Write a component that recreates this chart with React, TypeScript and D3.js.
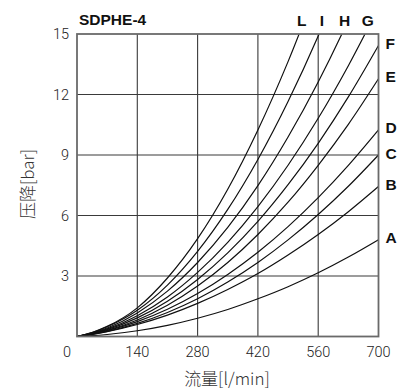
import React from "react";
import * as d3 from "d3";

const flows = [0, 35, 70, 140, 210, 280, 350, 420, 490, 560, 630, 700];
const seriesNames = ["A", "B", "C", "D", "E", "F", "G", "H", "I", "L"];
const valA = [0, 0.039, 0.1, 0.284, 0.553, 0.906, 1.34, 1.87, 2.47, 3.16, 3.94, 4.8];
const valB = [0, 0.107, 0.242, 0.595, 1.06, 1.64, 2.33, 3.12, 4.04, 5.06, 6.19, 7.44];
const valC = [0, 0.108, 0.252, 0.648, 1.19, 1.87, 2.7, 3.67, 4.79, 6.05, 7.45, 9.0];
const valD = [0, 0.123, 0.287, 0.738, 1.35, 2.13, 3.08, 4.18, 5.45, 6.89, 8.49, 10.25];
const valE = [0, 0.123, 0.3, 0.818, 1.55, 2.5, 3.67, 5.06, 6.66, 8.49, 10.52, 12.78];
const valF = [0, 0.139, 0.339, 0.924, 1.75, 2.83, 4.15, 5.71, 7.53, 9.58, 11.88, 14.43];
const valG = [0, 0.153, 0.375, 1.03, 1.96, 3.18, 4.67, 6.44, 8.49, 10.82, 13.43, 16.31];
const valH = [0, 0.17, 0.42, 1.17, 2.25, 3.67, 5.41, 7.48, 9.89, 12.62, 15.69, 19.08];
const valI = [0, 0.19, 0.48, 1.3, 2.55, 4.22, 6.3, 8.78, 11.65, 14.9, 18.54];
const valL = [0, 0.2, 0.5, 1.42, 2.9, 4.85, 7.3, 10.24, 13.63, 17.46];
const xTicks = [0, 140, 280, 420, 560, 700];
const yTicks = [0, 3, 6, 9, 12, 15];
const title = "SDPHE-4";
const xTitle = "流量[l/min]";
const yTitle = "压降[bar]";

const allVals = [valA, valB, valC, valD, valE, valF, valG, valH, valI, valL];

export default function App() {
  const W = 407, H = 392;
  const left = 77, right = 378.5, top = 34, bottom = 336.5;
  const x = d3.scaleLinear().domain([0, 700]).range([left, right]);
  const y = d3.scaleLinear().domain([0, 15]).range([bottom, top]);
  const line = d3
    .line<[number, number]>()
    .x((d) => x(d[0]))
    .y((d) => y(d[1]))
    .curve(d3.curveMonotoneX);

  const series = seriesNames.map((name, i) => ({
    name,
    pts: allVals[i].map((v, j) => [flows[j], v] as [number, number]),
  }));

  const labels = series.map((s) => {
    const last = s.pts[s.pts.length - 1];
    if (last[1] <= 15) {
      return { name: s.name, lx: right + 7, ly: y(last[1]) - 2, anchor: "start" };
    }
    let cx = 700;
    for (let k = 1; k < s.pts.length; k++) {
      const a = s.pts[k - 1], b = s.pts[k];
      if (a[1] <= 15 && b[1] > 15) {
        cx = a[0] + ((15 - a[1]) / (b[1] - a[1])) * (b[0] - a[0]);
        break;
      }
    }
    return { name: s.name, lx: x(cx) + 3, ly: 26, anchor: "middle" };
  });

  const tickFont = "Roboto, 'DejaVu Sans', sans-serif";

  return (
    <svg
      width={W}
      height={H}
      style={{ position: "absolute", left: 0, top: 0, background: "#fff" }}
    >
      <defs>
        <clipPath id="plotclip">
          <rect x={left} y={top} width={right - left} height={bottom - top} />
        </clipPath>
      </defs>
      <rect x={0} y={0} width={W} height={H} fill="#fff" />
      {xTicks.slice(1, -1).map((t) => (
        <line key={"gx" + t} x1={x(t)} x2={x(t)} y1={top} y2={bottom} stroke="#3a3a3a" strokeWidth={1.1} />
      ))}
      {yTicks.slice(1, -1).map((t) => (
        <line key={"gy" + t} x1={left} x2={right} y1={y(t)} y2={y(t)} stroke="#3a3a3a" strokeWidth={1.1} />
      ))}
      <g clipPath="url(#plotclip)">
        {series.map((s) => (
          <path key={s.name} d={line(s.pts) || ""} fill="none" stroke="#111" strokeWidth={1.2} />
        ))}
      </g>
      <rect x={left} y={top} width={right - left} height={bottom - top} fill="none" stroke="#6a6a6a" strokeWidth={1.8} />
      {yTicks.slice(1).map((t) => (
        <text key={"yl" + t} x={69} y={y(t)} dy="0.36em" textAnchor="end" fontFamily={tickFont} fontWeight={300} fontSize={14.5} fill="#222">
          {t}
        </text>
      ))}
      {xTicks.map((t) => (
        <text key={"xl" + t} x={t === 0 ? x(t) - 10 : x(t)} y={357} textAnchor="middle" fontFamily={tickFont} fontWeight={300} fontSize={14.5} fill="#222">
          {t}
        </text>
      ))}
      <text x={227} y={385} textAnchor="middle" fontFamily="'Noto Sans CJK SC', sans-serif" fontWeight={300} fontSize={17} fill="#333">
        {xTitle}
      </text>
      <text transform={`translate(34,184) rotate(-90)`} textAnchor="middle" fontFamily="'Noto Sans CJK SC', sans-serif" fontWeight={300} fontSize={17} fill="#333">
        {yTitle}
      </text>
      <text x={79} y={25} fontFamily="'Liberation Sans', Arial, sans-serif" fontWeight="bold" fontSize={15.5} fill="#111">
        {title}
      </text>
      {labels.map((l) => (
        <text key={"lab" + l.name} x={l.lx} y={l.ly} dy={l.anchor === "start" ? "0.36em" : 0} textAnchor={l.anchor} fontFamily="'Liberation Sans', Arial, sans-serif" fontWeight="bold" fontSize={15.5} fill="#111">
          {l.name}
        </text>
      ))}
    </svg>
  );
}
